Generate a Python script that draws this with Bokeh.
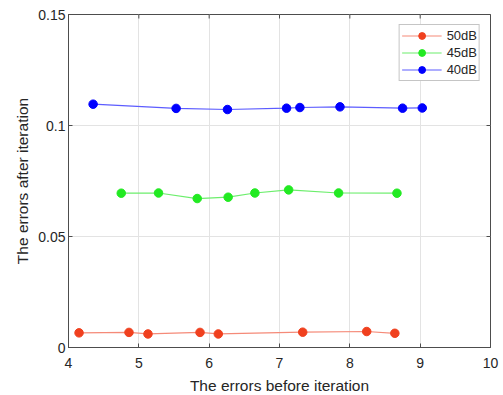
import math
from bokeh.plotting import figure
from bokeh.models import (FixedTicker, CustomJSTickFormatter, Legend, LegendItem, Range1d)
from bokeh.embed import file_html
from bokeh.resources import INLINE

# ---- data ----
x_50 = [4.15, 4.86, 5.13, 5.87, 6.13, 7.33, 8.24, 8.64]
y_50 = [0.0066, 0.0068, 0.0061, 0.0068, 0.0061, 0.0069, 0.0072, 0.0064]

x_45 = [4.75, 5.28, 5.83, 6.27, 6.65, 7.13, 7.84, 8.67]
y_45 = [0.0695, 0.0696, 0.0671, 0.0677, 0.0696, 0.0710, 0.0696, 0.0695]

x_40 = [4.35, 5.53, 6.26, 7.10, 7.29, 7.86, 8.75, 9.03]
y_40 = [0.1096, 0.1077, 0.1072, 0.1078, 0.1081, 0.1084, 0.1078, 0.1079]

series_names = ["50dB", "45dB", "40dB"]
x_ticks = [4, 5, 6, 7, 8, 9, 10]
y_ticks = [0, 0.05, 0.1, 0.15]
x_label = "The errors before iteration"
y_label = "The errors after iteration"

FONT = "Liberation Sans"
TXT = "#262626"
AX = "#4d4d4d"

X0, X1 = x_ticks[0], x_ticks[-1]
Y0, Y1 = y_ticks[0], y_ticks[-1]

p = figure(frame_width=422, frame_height=333, output_backend="svg", toolbar_location=None,
           x_range=Range1d(X0, X1), y_range=Range1d(Y0, Y1),
           min_border_left=68, min_border_top=14, min_border_right=10, min_border_bottom=40,
           background_fill_color="white", border_fill_color="white")
p.outline_line_color = AX
p.outline_line_width = 1

p.xaxis.ticker = FixedTicker(ticks=x_ticks)
p.yaxis.ticker = FixedTicker(ticks=y_ticks)
p.yaxis.formatter = CustomJSTickFormatter(code="return tick.toString();")

for ax in [p.xaxis[0], p.yaxis[0]]:
    ax.major_tick_in = 4
    ax.major_tick_out = 0
    ax.minor_tick_line_color = None
    ax.axis_line_color = AX
    ax.major_tick_line_color = AX
    ax.major_label_text_font = FONT
    ax.major_label_text_font_size = "14px"
    ax.major_label_text_color = TXT
    ax.axis_label_text_font = FONT
    ax.axis_label_text_font_size = "15.5px"
    ax.axis_label_text_font_style = "normal"
    ax.axis_label_text_color = TXT

p.xaxis.axis_label = x_label
p.yaxis.axis_label = y_label
p.xaxis.major_label_standoff = 10
p.xaxis.axis_label_standoff = 6
p.yaxis.major_label_standoff = 3
p.yaxis.axis_label_standoff = 4

# tick marks on the top and right edges (MATLAB box style), clipped to the frame
p.scatter(x_ticks, [Y1] * len(x_ticks), marker="dash", size=8, angle=math.pi / 2,
          line_color=AX, line_width=1)
p.scatter([X1] * len(y_ticks), y_ticks, marker="dash", size=8,
          line_color=AX, line_width=1)

p.xgrid.ticker = FixedTicker(ticks=x_ticks)
p.ygrid.ticker = FixedTicker(ticks=y_ticks)
p.grid.grid_line_color = "#e3e3e3"
p.grid.grid_line_width = 1

colors = ["#f0401e", "#22ea22", "#0000ff"]
line_colors = ["#f58a78", "#6cee6c", "#5c5cff"]
data = [(x_50, y_50), (x_45, y_45), (x_40, y_40)]
items = []
for name, (xs, ys), c, lc in zip(series_names, data, colors, line_colors):
    r1 = p.line(xs, ys, line_color=lc, line_width=1.2)
    r2 = p.scatter(xs, ys, marker="circle", size=8.5, fill_color=c, line_color=c)
    items.append(LegendItem(label=name, renderers=[r1, r2]))

legend = Legend(items=items, location="top_right", margin=10,
                glyph_width=40, glyph_height=17, label_height=17, spacing=0,
                padding=2, label_standoff=5,
                label_text_font=FONT, label_text_font_size="13px", label_text_color=TXT,
                border_line_color="#8c8c8c", border_line_width=1,
                background_fill_color="white", background_fill_alpha=1)
p.add_layout(legend)

open("out.html", "w").write(file_html(p, INLINE))
